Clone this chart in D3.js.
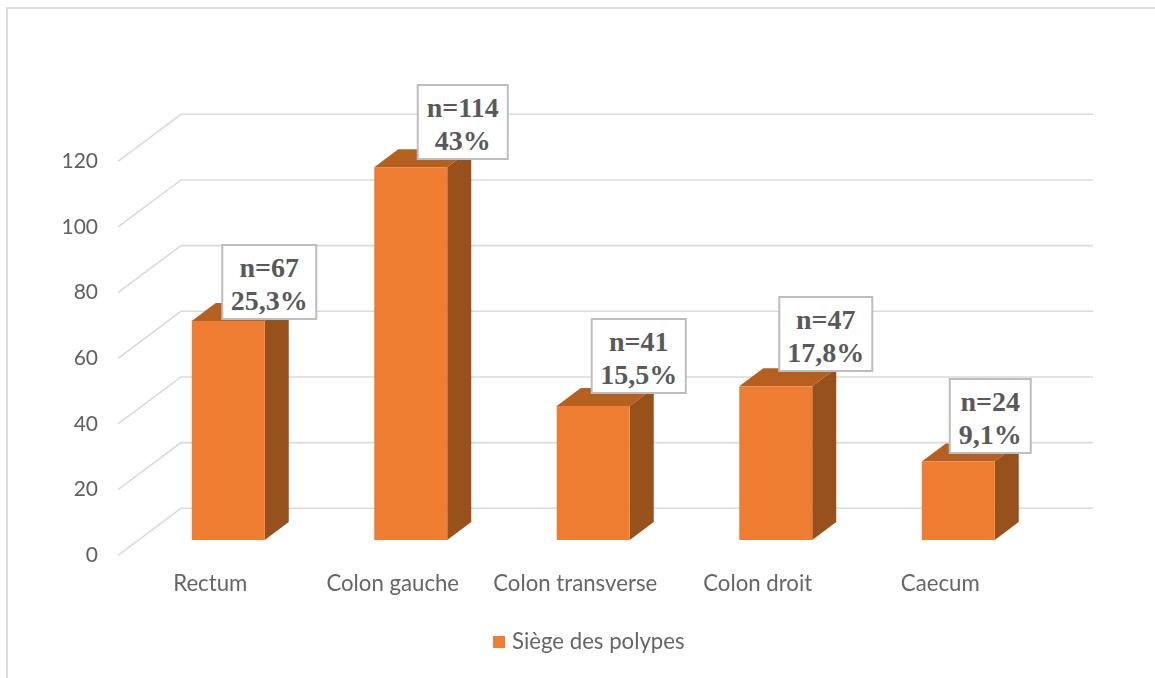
<!DOCTYPE html>
<html>
<head>
<meta charset="utf-8">
<script src="https://cdn.jsdelivr.net/npm/d3@7"></script>
<style>
  html, body { margin: 0; padding: 0; background: #fff; }
  svg { display: block; filter: blur(0.5px); }
</style>
</head>
<body>
<div id="chart"></div>
<script>
'use strict';

var categories = ['Rectum', 'Colon gauche', 'Colon transverse', 'Colon droit', 'Caecum']
var polypes = [67, 114, 41, 47, 24]
var percents = ['25,3%', '43%', '15,5%', '17,8%', '9,1%']
var yTicks = [0, 20, 40, 60, 80, 100, 120]
var seriesName = 'Siège des polypes'

var width = 1155
var height = 678

// 3d depth of the bars and of the chart floor
var barDepth = {x: 24, y: -18}
var wallDepth = {x: 63, y: -47}

var x = d3.scaleBand()
  .domain(categories)
  .range([137, 1049.5])
  .paddingInner(0.6)
  .paddingOuter(0.3)

// Front plane, the bars stand on it
var y = d3.scaleLinear()
  .domain([0, 120])
  .range([540, 147.6])

// Back wall, slightly bigger than the front plane
var yBack = d3.scaleLinear()
  .domain([0, 120])
  .range([508.3, 114.3])

var svg = d3.select('#chart').append('svg')
  .attr('width', width)
  .attr('height', height)

// Page frame
svg.append('path')
  .attr('d', 'M7,' + height + 'V8H' + width)
  .style('fill', 'none')
  .style('stroke', '#dcdcdc')
  .style('stroke-width', 2)

// Back grid lines with their floor part
var gridLine = d3.line()
var gridLeft = 181

svg.selectAll('path.grid')
    .data(yTicks)
  .enter().append('path')
    .attr('class', 'grid')
    .attr('d', function(d) {
      var yb = yBack(d)
      return gridLine([[gridLeft - wallDepth.x, yb - wallDepth.y], [gridLeft, yb], [1093, yb]])
    })
    .style('fill', 'none')
    .style('stroke', '#dadada')
    .style('stroke-width', 1.6)

// Bars
var bar = svg.selectAll('g.bar')
    .data(polypes)
  .enter().append('g')
    .attr('class', 'bar')

function barX(i) { return x(categories[i]) }

bar.append('path') // top face
  .attr('d', function(d, i) {
    var x0 = barX(i), x1 = x0 + x.bandwidth(), t = y(d)
    return gridLine([[x0, t], [x0 + barDepth.x, t + barDepth.y], [x1 + barDepth.x, t + barDepth.y], [x1, t]]) + 'Z'
  })
  .style('fill', '#b6601f')

bar.append('path') // side face
  .attr('d', function(d, i) {
    var x1 = barX(i) + x.bandwidth(), t = y(d), b = y(0)
    return gridLine([[x1, t], [x1 + barDepth.x, t + barDepth.y], [x1 + barDepth.x, b + barDepth.y], [x1, b]]) + 'Z'
  })
  .style('fill', '#97511c')

bar.append('rect') // front face
  .attr('x', function(d, i) { return barX(i) })
  .attr('y', function(d) { return y(d) })
  .attr('width', x.bandwidth())
  .attr('height', function(d) { return y(0) - y(d) })
  .style('fill', '#ee7d31')

// Value axis, drawn on the front edge of the floor
var yAxis = d3.axisLeft(yBack)
  .tickValues(yTicks)
  .tickSize(0)
  .tickPadding(0)

var axisG = svg.append('g')
  .attr('transform', 'translate(98,46.5)')
  .call(yAxis)

axisG.select('.domain').remove()
axisG.selectAll('text')
  .style('font-family', 'Lato, sans-serif')
  .style('font-size', '21px')
  .style('fill', '#5f5f5f')

// Category labels
svg.selectAll('text.cat')
    .data(categories)
  .enter().append('text')
    .attr('class', 'cat')
    .attr('x', function(d) { return x(d) + x.bandwidth() / 2 - 18 })
    .attr('y', 591)
    .attr('text-anchor', 'middle')
    .style('font-family', 'Lato, sans-serif')
    .style('font-size', '22.2px')
    .style('fill', '#666')
    .text(function(d) { return d })

// Value boxes
var boxW = [94, 90, 94, 93, 81]
var boxDx = [41, 52, 45.5, 50, 32]
var boxBottom = [319, 159, 393, 371, 453]
var boxH = 74

var box = svg.selectAll('g.box')
    .data(polypes)
  .enter().append('g')
    .attr('class', 'box')
    .attr('transform', function(d, i) {
      var cx = barX(i) + x.bandwidth() / 2 + boxDx[i]
      return 'translate(' + cx + ',' + boxBottom[i] + ')'
    })

box.append('rect')
  .attr('x', function(d, i) { return -boxW[i] / 2 })
  .attr('y', -boxH)
  .attr('width', function(d, i) { return boxW[i] })
  .attr('height', boxH)
  .style('fill', '#fff')
  .style('stroke', '#bdbdbd')
  .style('stroke-width', 2)

function boxText(sel, yPos, fn) {
  sel.append('text')
    .attr('y', yPos)
    .attr('text-anchor', 'middle')
    .style('font-family', '"Liberation Serif", serif')
    .style('font-weight', 'bold')
    .style('font-size', '28px')
    .style('fill', '#595959')
    .text(fn)
}

boxText(box, -42, function(d) { return 'n=' + d })
boxText(box, -9, function(d, i) { return percents[i] })

// Legend
svg.append('rect')
  .attr('x', 493)
  .attr('y', 636)
  .attr('width', 12)
  .attr('height', 12)
  .style('fill', '#ee7d31')

svg.append('text')
  .attr('x', 512)
  .attr('y', 649)
  .style('font-family', 'Lato, sans-serif')
  .style('font-size', '22.2px')
  .style('fill', '#666')
  .text(seriesName)
</script>
</body>
</html>
